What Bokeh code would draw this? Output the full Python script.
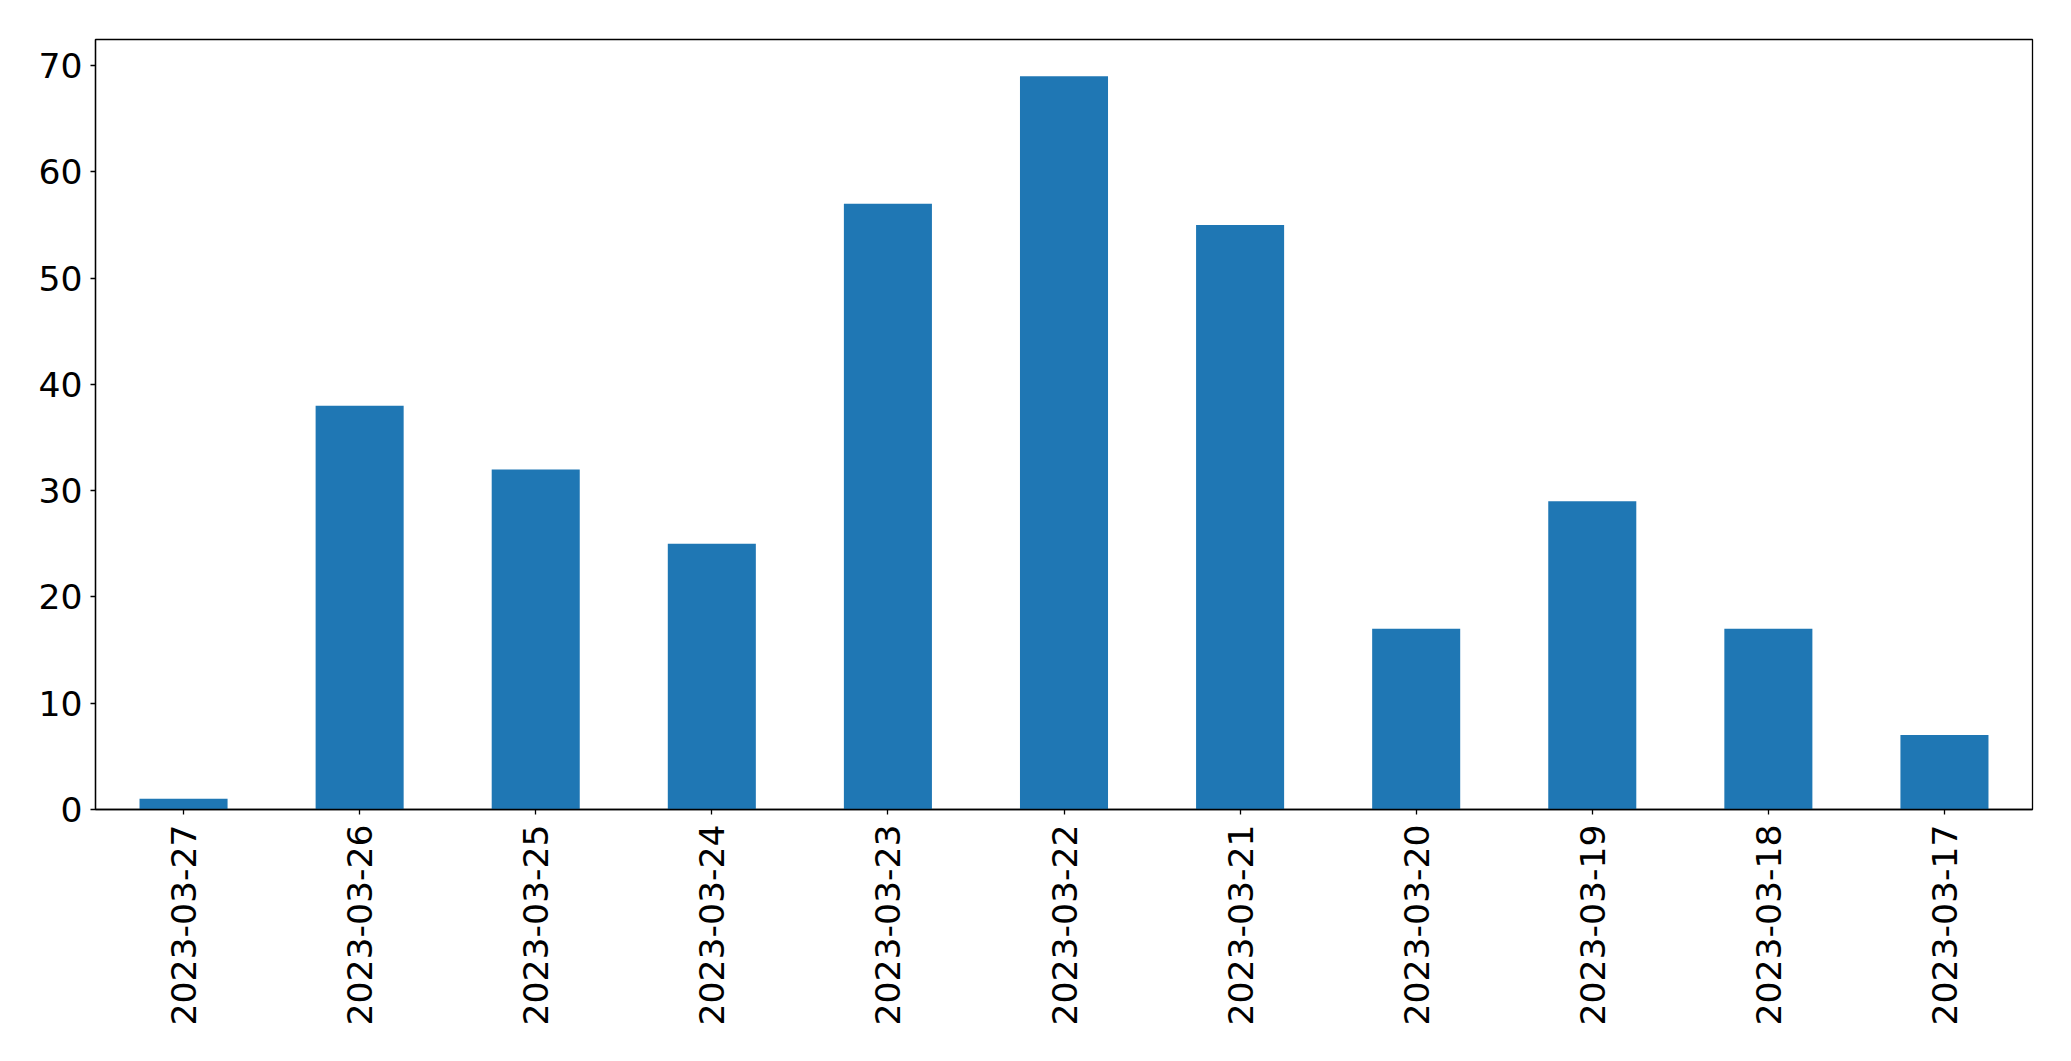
import math
from bokeh.plotting import figure
from bokeh.models import Range1d, FactorRange, SingleIntervalTicker, ColumnDataSource
from bokeh.embed import file_html
from bokeh.resources import INLINE

dates = ["2023-03-27", "2023-03-26", "2023-03-25", "2023-03-24", "2023-03-23",
         "2023-03-22", "2023-03-21", "2023-03-20", "2023-03-19", "2023-03-18",
         "2023-03-17"]
counts = [1, 38, 32, 25, 57, 69, 55, 17, 29, 17, 7]

src = ColumnDataSource(dict(date=dates, count=counts))

W, H = 2060, 1050
p = figure(width=W, height=H, output_backend="svg", toolbar_location=None,
           x_range=FactorRange(*dates, range_padding=0),
           y_range=Range1d(0, max(counts) * 1.05))
p.min_border_left = 95
p.min_border_top = 39
p.min_border_right = W - 2032
p.min_border_bottom = H - 809

p.vbar(x="date", top="count", width=0.5, source=src, color="#1f77b4", line_color=None)

p.xgrid.visible = False
p.ygrid.visible = False
p.outline_line_color = "black"
p.outline_line_width = 1.3
p.outline_line_alpha = 1
p.background_fill_color = "white"
p.border_fill_color = "white"

p.yaxis.ticker = SingleIntervalTicker(interval=10)
for ax in (p.xaxis[0], p.yaxis[0]):
    ax.axis_line_color = "black"
    ax.axis_line_width = 1.3
    ax.major_tick_line_color = "black"
    ax.major_tick_line_width = 1.3
    ax.major_tick_out = 5
    ax.major_tick_in = 0
    ax.minor_tick_line_color = None
    ax.major_label_text_font = "DejaVu Sans"
    ax.major_label_text_font_size = "34.6px"
    ax.major_label_text_color = "black"
p.yaxis.major_label_standoff = 8
p.xaxis.major_label_standoff = 10
p.xaxis.major_label_orientation = math.pi / 2

open("out.html", "w").write(file_html(p, INLINE))
